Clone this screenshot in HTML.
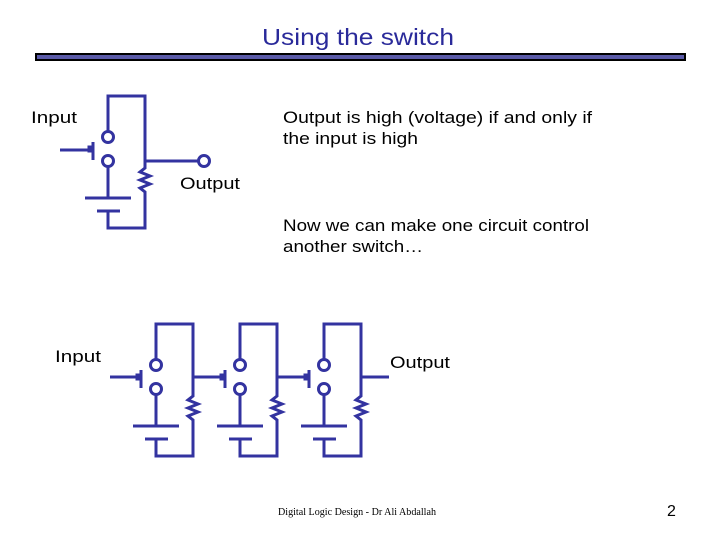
<!DOCTYPE html>
<html><head><meta charset="utf-8"><style>
html,body{margin:0;padding:0;background:#fff;}
svg{display:block;}
text{font-family:"Liberation Sans",sans-serif;}
</style></head><body>
<svg width="720" height="540" viewBox="0 0 720 540" xmlns="http://www.w3.org/2000/svg">
<defs>
<g id="cell" fill="none" stroke="#3333a0" stroke-width="3">
  <path d="M0,35 V0 H37 V72 l-5,4 l10,4 l-10,4 l10,4 l-10,4 l5,4 V132 H0 V115"/>
  <circle cx="0" cy="41" r="5.5"/>
  <circle cx="0" cy="65" r="5.5"/>
  <path d="M0,70.5 V102"/>
  <path d="M-23,102 H23"/>
  <path d="M-11,115 H12"/>
  <path d="M-15,46 V64"/>
  <rect x="-19" y="51" width="3" height="4" fill="#3333a0"/>
</g>
</defs>
<text x="358" y="45" font-size="23" fill="#2a2a9a" text-anchor="middle" textLength="192" lengthAdjust="spacingAndGlyphs">Using the switch</text>
<rect x="36" y="54" width="649" height="6" fill="#5a5aa8" stroke="#000" stroke-width="2"/>

<use href="#cell" x="108" y="96"/>
<path d="M60,150 H90 M145,161 H198" stroke="#3333a0" stroke-width="3" fill="none"/>
<circle cx="204" cy="161" r="5.5" fill="none" stroke="#3333a0" stroke-width="3"/>

<use href="#cell" x="156" y="324"/>
<use href="#cell" x="240" y="324"/>
<use href="#cell" x="324" y="324"/>
<path d="M110,377 H138 M193,377 H222 M277,377 H306 M361,377 H389" stroke="#3333a0" stroke-width="3" fill="none"/>

<g font-size="17" fill="#000">
<text x="31" y="123" textLength="46" lengthAdjust="spacingAndGlyphs">Input</text>
<text x="180" y="189" textLength="60" lengthAdjust="spacingAndGlyphs">Output</text>
<text x="283" y="123" textLength="309" lengthAdjust="spacingAndGlyphs">Output is high (voltage) if and only if</text>
<text x="283" y="144" textLength="135" lengthAdjust="spacingAndGlyphs">the input is high</text>
<text x="283" y="231" textLength="306" lengthAdjust="spacingAndGlyphs">Now we can make one circuit control</text>
<text x="283" y="252" textLength="140" lengthAdjust="spacingAndGlyphs">another switch…</text>
<text x="55" y="362" textLength="46" lengthAdjust="spacingAndGlyphs">Input</text>
<text x="390" y="368" textLength="60" lengthAdjust="spacingAndGlyphs">Output</text>
</g>
<text x="278" y="515" font-size="10" textLength="158" lengthAdjust="spacingAndGlyphs" style="font-family:'Liberation Serif',serif">Digital Logic Design - Dr Ali Abdallah</text>
<text x="667" y="516" font-size="16">2</text>
</svg>
</body></html>
